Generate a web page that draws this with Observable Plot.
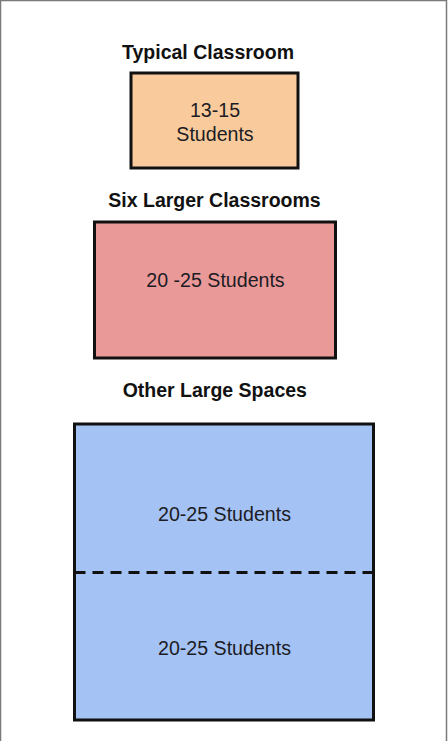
<!DOCTYPE html>
<html><head><meta charset="utf-8">
<script src="https://cdn.jsdelivr.net/npm/d3@7"></script>
<script src="https://cdn.jsdelivr.net/npm/@observablehq/plot@0.6"></script>
<style>html,body{margin:0;padding:0;background:#fff;overflow:hidden}</style>
</head><body><div id="chart"></div>
<script>
// ---- data ----
const spaces = ["Typical Classroom", "Six Larger Classrooms", "Other Large Spaces"];
const capacityLabels = [["13-15\nStudents"], ["20 -25 Students"], ["20-25 Students", "20-25 Students"]];
const spaceWidths = [167, 241, 299];   // relative footprint (layout units)
const spaceHeights = [95, 136, 296];
const spaceColors = ["#f9cb9c", "#ea9999", "#a4c2f4"];

// ---- layout ----
const W = 448, H = 741;
const centersX = [214.5, 215, 224];
const titleX = [207.5, 214, 214.3];
const boxTops = [73, 222, 424];
const titleGap = [21, 22, 34];
const labelOffsets = [[0.5], [-11], [15, 1]];

const boxes = spaces.map((name, i) => ({
  name,
  x1: centersX[i] - spaceWidths[i] / 2,
  x2: centersX[i] + spaceWidths[i] / 2,
  y1: boxTops[i],
  y2: boxTops[i] + spaceHeights[i],
  fill: spaceColors[i],
  cx: centersX[i],
  tx: titleX[i],
  ty: boxTops[i] - titleGap[i],
  labels: capacityLabels[i],
  offs: labelOffsets[i]
}));

const labelRows = boxes.flatMap(b => {
  const n = b.labels.length, h = (b.y2 - b.y1) / n;
  return b.labels.map((t, k) => ({text: t, x: b.cx, y: b.y1 + h * (k + 0.5) + b.offs[k]}));
});
const dividers = boxes.flatMap(b => {
  const n = b.labels.length, h = (b.y2 - b.y1) / n;
  return d3.range(1, n).map(k => ({x1: b.x1, x2: b.x2, y: b.y1 + h * k}));
});

const chart = Plot.plot({
  width: W, height: H,
  margin: 0,
  x: {domain: [0, W], range: [0, W], axis: null},
  y: {domain: [0, H], range: [0, H], axis: null},
  style: {fontFamily: "'Liberation Sans', Arial, sans-serif", background: "#fff"},
  marks: [
    Plot.frame({stroke: "#7a7a7a", strokeWidth: 1.5, insetRight: 2, insetBottom: -3}),
    Plot.rect(boxes, {x1: "x1", x2: "x2", y1: "y1", y2: "y2", fill: "fill", stroke: "#111", strokeWidth: 3}),
    Plot.ruleY(dividers, {y: "y", x1: "x1", x2: "x2", stroke: "#111", strokeWidth: 3, strokeDasharray: "11,7"}),
    Plot.text(boxes, {x: "tx", y: "ty", text: "name", fontWeight: "bold", fontSize: 19.5, fill: "#111", lineAnchor: "middle"}),
    Plot.text(labelRows, {x: "x", y: "y", text: "text", fontSize: 19.6, fill: "#1c1c24", lineAnchor: "middle", lineHeight: 1.22})
  ]
});
document.getElementById("chart").appendChild(chart);
</script>
</body></html>
